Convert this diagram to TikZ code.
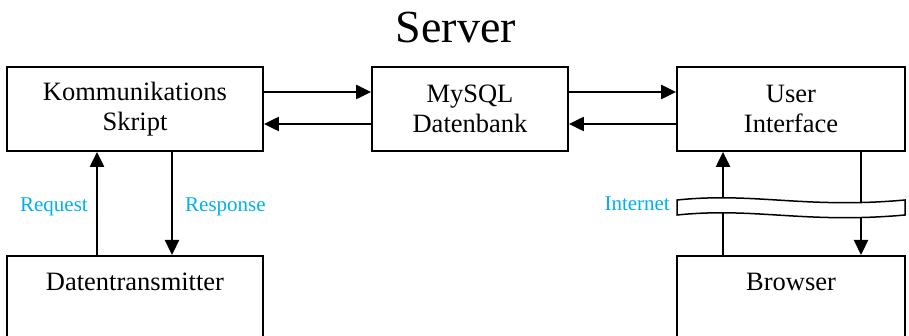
\documentclass[tikz,border=0pt]{standalone}
\usepackage{fontspec}
\setmainfont{Liberation Serif}
\usetikzlibrary{arrows.meta}
\definecolor{labelblue}{RGB}{0,176,240}
\tikzset{
  box/.style={draw=black, line width=1.8pt, fill=white, align=center,
    font=\fontsize{26.5}{30}\selectfont, inner sep=0pt},
  topbox/.style={box, minimum height=84pt},
  lowbox/.style={box, anchor=north, text height=18pt, text depth=70pt,
    inner ysep=17pt},
  arr/.style={line width=2.2pt, -{Triangle[length=15pt,width=14pt]}},
  lbl/.style={text=labelblue, font=\fontsize{21}{24}\selectfont, inner sep=0pt},
}
\begin{document}
\begin{tikzpicture}[x=1pt, y=-1pt]
\useasboundingbox (0,0) rectangle (909,336);
\clip (0,0) rectangle (909,336);

% title
\node[anchor=base, font=\fontsize{46}{50}\selectfont, inner sep=0pt] (title) at (456,43) {Server};

% server side
\node[topbox, minimum width=256pt] (k) at (135,109) {Kommunikations\\Skript};
\node[topbox, minimum width=196pt] (m) at (470,109) {MySQL\\Datenbank};
\node[topbox, minimum width=228pt] (u) at (791,109) {User\\Interface};

% clients
\node[lowbox, minimum width=256pt] (d) at (135,255) {Datentransmitter};
\node[lowbox, minimum width=228pt] (b) at (791,255) {Browser};

% database links
\draw[arr] ([yshift=17pt]k.east) -- ([yshift=17pt]m.west);
\draw[arr] ([yshift=-15pt]m.west) -- ([yshift=-15pt]k.east);
\draw[arr] ([yshift=17pt]m.east) -- ([yshift=17pt]u.west);
\draw[arr] ([yshift=-15pt]u.west) -- ([yshift=-15pt]m.east);

% transmitter links
\draw[arr] ([xshift=-38pt]d.north) -- ([xshift=-38pt]k.south);
\draw[arr] ([xshift=37pt]k.south) -- ([xshift=37pt]d.north);
\node[lbl, anchor=base east] (req) at (88,212) {Request};
\node[lbl, anchor=base west] (resp) at (185,212) {Response};

% browser links
\draw[arr] ([xshift=-68pt]b.north) -- ([xshift=-68pt]u.south);
\draw[arr] ([xshift=70pt]u.south) -- ([xshift=70pt]b.north);

% internet band
\draw[line width=1.5pt, fill=white]
  (677,200) .. controls (755,192) and (805,209) .. (905,200)
  -- (905,215) .. controls (805,224) and (755,207) .. (677,215) -- cycle;
\node[lbl, anchor=base east] (net) at (670,211) {Internet};
\end{tikzpicture}
\end{document}
